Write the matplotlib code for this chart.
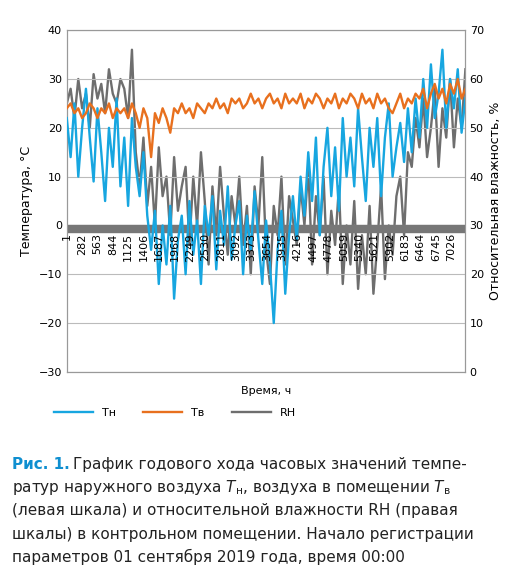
import matplotlib
matplotlib.use("Agg")
import matplotlib.pyplot as plt

hours = list(range(1, 7300, 70))
tn = [22,14,25,10,20,28,18,9,24,15,5,20,12,26,8,
      18,4,22,12,6,15,2,-5,3,-12,0,-8,4,-15,-3,
      2,-10,5,-6,1,-12,4,-2,6,-9,3,-4,8,-7,0,
      5,-10,2,-5,7,-3,-12,1,-8,-20,-5,3,-14,-2,6,
      -3,10,2,15,5,18,-2,12,20,6,16,3,22,10,18,
      8,24,14,5,20,12,22,6,18,25,10,16,21,13,24,
      15,26,18,30,20,33,22,27,36,20,30,24,32,19,26]
tv = [24,25,23,24,22,23,25,24,22,24,23,25,22,24,23,
      24,22,25,23,20,24,22,14,23,21,24,22,19,24,23,
      25,23,24,22,25,24,23,25,24,26,24,25,23,26,25,
      26,24,25,27,25,26,24,26,27,25,26,24,27,25,26,
      25,27,24,26,25,27,26,24,26,25,27,24,26,25,27,
      26,24,27,25,26,24,27,25,26,24,23,25,27,24,26,
      25,27,26,28,24,27,29,26,28,25,29,27,30,26,28]
rh = [55,58,52,60,54,57,50,61,56,59,53,62,57,55,60,
      58,52,66,45,38,48,34,42,30,46,36,40,28,44,33,
      38,42,26,40,30,45,35,22,38,28,42,32,24,36,30,
      40,26,34,20,38,30,44,25,18,34,28,40,22,36,31,
      26,38,30,42,22,36,28,40,20,33,26,38,18,30,22,
      35,17,28,20,34,16,26,38,19,30,24,36,40,28,45,
      42,52,46,56,44,50,58,42,54,48,60,46,56,50,62]
xticks = [1,282,563,844,1125,1406,1687,1968,2249,2530,2811,3092,3373,3654,
          3935,4216,4497,4778,5059,5340,5621,5902,6183,6464,6745,7026]

BLUE, ORANGE, GRAY = "#17a6e0", "#e8701e", "#6e6e6e"
fig = plt.figure(figsize=(5.30, 5.81), dpi=100)
ax = fig.add_axes([0.126, 0.360, 0.751, 0.588])
ax2 = ax.twinx()
ax.set_ylim(-30, 40); ax2.set_ylim(0, 70)
ax.set_xlim(1, 7270)
ax.set_yticks(range(-30, 41, 10)); ax2.set_yticks(range(0, 71, 10))
ax.grid(axis="y", color="#bbbbbb", lw=0.8)
ax.set_axisbelow(True)
ax.axhspan(-1.3, 0, color="#777777", zorder=1)
l1, = ax.plot(hours, tn, color=BLUE, lw=1.7, label="Tн", zorder=3)
l2, = ax.plot(hours, tv, color=ORANGE, lw=1.7, label="Tв", zorder=3)
l3, = ax2.plot(hours, rh, color=GRAY, lw=1.7, label="RH", zorder=2)
ax.set_zorder(ax2.get_zorder() + 1); ax.patch.set_visible(False)
ax.set_xticks([])
for h in xticks:
    ax.text(h, -1.6, str(h), rotation=90, ha="center", va="top", fontsize=8, zorder=5)
ax.set_xlabel("Время, ч", fontsize=8, labelpad=10)
ax.set_ylabel("Температура, °С", fontsize=9)
ax2.set_ylabel("Относительная влажность, %", fontsize=9)
for a in (ax, ax2):
    a.tick_params(labelsize=8, length=0)
    for s in a.spines.values():
        s.set_color("#999999")
fig.legend(handles=[l1, l2, l3], loc="center", bbox_to_anchor=(0.33, 0.29), ncol=3,
           frameon=False, fontsize=8, handlelength=3.5, columnspacing=2.5)

fs = 11
fig.text(0.022, 0.193, "Рис. 1.", color="#0f8fd0", fontsize=fs, fontweight="bold")
fig.text(0.137, 0.193, "График годового хода часовых значений темпе-", fontsize=fs, color="#222222")
lines = [r"ратур наружного воздуха $T_{\rm н}$, воздуха в помещении $T_{\rm в}$",
         "(левая шкала) и относительной влажности RH (правая",
         "шкалы) в контрольном помещении. Начало регистрации",
         "параметров 01 сентября 2019 года, время 00:00"]
for i, t in enumerate(lines):
    fig.text(0.022, 0.193 - (i + 1) * 0.040, t, fontsize=fs, color="#222222")
fig.savefig("out.png", dpi=100)
